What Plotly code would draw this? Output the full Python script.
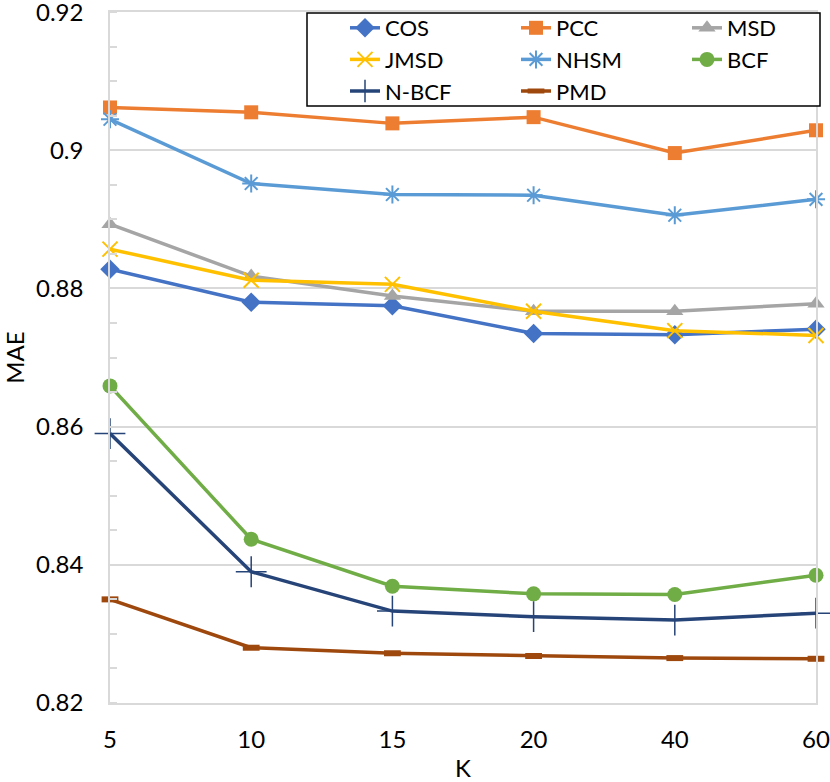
import plotly.graph_objects as go

K = ["5", "10", "15", "20", "40", "60"]
COS = [0.8828, 0.8780, 0.8775, 0.8735, 0.8733, 0.8741]
PCC = [0.9062, 0.9055, 0.9039, 0.9048, 0.8996, 0.9029]
MSD = [0.8893, 0.8818, 0.8789, 0.8767, 0.8767, 0.8778]
JMSD = [0.8857, 0.8812, 0.8806, 0.8767, 0.8739, 0.8732]
NHSM = [0.9045, 0.8952, 0.8936, 0.8935, 0.8906, 0.8929]
BCF = [0.8659, 0.8437, 0.8369, 0.8358, 0.8357, 0.8385]
NBCF = [0.8590, 0.8390, 0.8333, 0.8325, 0.8320, 0.8330]
PMD = [0.8350, 0.8280, 0.8272, 0.8268, 0.8265, 0.8264]
Y_TICKS = [0.82, 0.84, 0.86, 0.88, 0.90, 0.92]
Y_TICK_TEXT = ["0.82", "0.84", "0.86", "0.88", "0.9", "0.92"]

# (name, values, colour, marker, legend column)
series = [
    ("COS", COS, "#4472C4", dict(symbol="diamond", size=15), "legend"),
    ("PCC", PCC, "#ED7D31", dict(symbol="square", size=14), "legend2"),
    ("MSD", MSD, "#A5A5A5", dict(symbol="triangle-up", size=15), "legend3"),
    ("JMSD", JMSD, "#FFC000", dict(symbol="x-thin-open", size=15, line=dict(width=2, color="#FFC000")), "legend"),
    ("NHSM", NHSM, "#5B9BD5", dict(symbol="asterisk-open", size=15, line=dict(width=2, color="#5B9BD5")), "legend2"),
    ("BCF", BCF, "#70AD47", dict(symbol="circle", size=15), "legend3"),
    ("N-BCF", NBCF, "#264478", dict(symbol="cross-thin-open", size=22, line=dict(width=1.5, color="#264478")), "legend"),
    ("PMD", PMD, "#9E480E", dict(symbol="line-ew-open", size=12, line=dict(width=6, color="#9E480E")), "legend2"),
]

fig = go.Figure()
for name, vals, col, mk, lg in series:
    mk = dict(mk)
    mk.setdefault("color", col)
    fig.add_trace(go.Scatter(x=K, y=vals, name=name, mode="lines+markers", legend=lg,
                             line=dict(color=col, width=3.5), marker=mk, cliponaxis=False))

grid = "#D9D9D9"
font = "Lato"
PLOT_L, PLOT_W, PLOT_T, PLOT_H = 110, 706, 12, 691


def px_x(p):
    return (p - PLOT_L) / PLOT_W


def px_y(p):
    return 1 - (p - PLOT_T) / PLOT_H


leg_common = dict(orientation="v", xanchor="left", yanchor="top", y=px_y(7),
                  borderwidth=0, bgcolor="rgba(0,0,0,0)", font=dict(size=22),
                  tracegroupgap=0, itemwidth=30, traceorder="normal")

fig.update_layout(
    width=830, height=782,
    margin=dict(l=PLOT_L, r=830 - PLOT_L - PLOT_W, t=PLOT_T, b=782 - PLOT_T - PLOT_H, autoexpand=False),
    paper_bgcolor="white", plot_bgcolor="white",
    font=dict(family=font, size=24, color="black"),
    showlegend=True,
    legend=dict(leg_common, x=px_x(345)),
    legend2=dict(leg_common, x=px_x(516)),
    legend3=dict(leg_common, x=px_x(687)),
    shapes=[dict(type="rect", xref="paper", yref="paper", layer="above",
                 x0=px_x(307), x1=px_x(820), y0=px_y(106), y1=px_y(13),
                 line=dict(color="black", width=1.5), fillcolor="white")],
    xaxis=dict(type="category", range=[0, 5], showgrid=False, showline=True,
               linecolor=grid, linewidth=1.5, mirror=True, ticks="", automargin=False,
               tickfont=dict(size=24), ticklabelstandoff=14,
               title=dict(text="K", font=dict(size=24), standoff=19)),
    yaxis=dict(range=[0.82, 0.92002], tickmode="array", tickvals=Y_TICKS, ticktext=Y_TICK_TEXT,
               showgrid=True, gridcolor=grid, automargin=False, ticklabeloverflow="allow",
               gridwidth=1.5, showline=True, linecolor=grid, linewidth=1.5, mirror=True,
               ticks="", tickfont=dict(size=24), ticklabelstandoff=20,
               zeroline=False,
               minor=dict(dtick=0.005, tick0=0.82, ticks="inside", ticklen=7,
                          tickcolor=grid, tickwidth=1.5, showgrid=False),
               title=dict(text="MAE", font=dict(size=24), standoff=6)),
)

fig.write_html("out.html", config={"displayModeBar": False},
               post_script="document.body.style.margin='0';document.body.style.overflow='hidden';")
